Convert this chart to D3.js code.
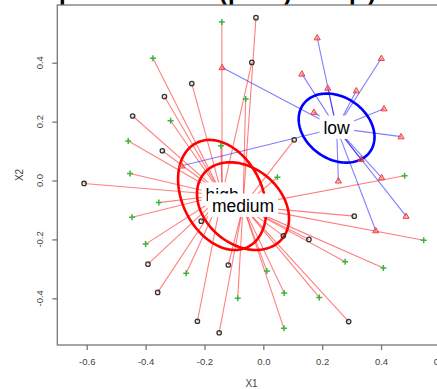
<!DOCTYPE html>
<html>
<head>
<meta charset="utf-8">
<script src="https://cdn.jsdelivr.net/npm/d3@7"></script>
<style>
  body { margin: 0; background: #fff; }
  svg { display: block; font-family: "Liberation Sans", Arial, sans-serif; }
</style>
</head>
<body>
<div id="chart"></div>
<script>
// points (X1, X2), marker shape and the group they are joined to
const pointX = [0.183, 0.401, 0.131, 0.219, 0.316, 0.410, 0.172, -0.140, 0.468, 0.255, 0.402, 0.485, 0.382, -0.277, 0.332,
  -0.141, -0.025, -0.375, -0.039, -0.243, -0.336, -0.060, -0.444, -0.315, -0.459, -0.343, -0.453, -0.609, -0.355, -0.446,
  -0.211, -0.400, -0.144, 0.105, 0.048, 0.480, 0.309, 0.068, 0.155, 0.545, -0.392, -0.262, -0.119, 0.012, 0.278,
  0.408, -0.359, 0.071, -0.087, 0.190, -0.224, 0.290, -0.150, 0.070];
const pointY = [0.485, 0.415, 0.362, 0.314, 0.305, 0.244, 0.232, 0.384, 0.149, -0.001, 0.010, -0.121, -0.170, 0.050, 0.072,
  0.538, 0.553, 0.415, 0.401, 0.329, 0.285, 0.277, 0.219, 0.203, 0.134, 0.101, 0.024, -0.010, -0.075, -0.125,
  -0.138, -0.216, 0.118, 0.138, 0.011, 0.016, -0.121, -0.188, -0.200, -0.203, -0.284, -0.315, -0.287, -0.307, -0.276,
  -0.297, -0.380, -0.382, -0.400, -0.397, -0.478, -0.479, -0.517, -0.502];
const pointShape = ['tri', 'tri', 'tri', 'tri', 'tri', 'tri', 'tri', 'tri', 'tri', 'tri', 'tri', 'tri', 'tri', 'tri', 'tri',
  'plus', 'circle', 'plus', 'circle', 'circle', 'circle', 'plus', 'circle', 'plus', 'plus', 'circle', 'plus', 'circle', 'plus', 'plus',
  'circle', 'plus', 'plus', 'circle', 'plus', 'plus', 'circle', 'circle', 'circle', 'plus', 'circle', 'plus', 'circle', 'plus', 'plus',
  'plus', 'circle', 'plus', 'plus', 'plus', 'circle', 'circle', 'circle', 'plus'];
const pointGroup = ['low', 'low', 'low', 'low', 'low', 'low', 'low', 'low', 'low', 'low', 'low', 'low', 'low', 'low', 'low',
  'high', 'medium', 'high', 'high', 'high', 'high', 'medium', 'high', 'high', 'high', 'high', 'high', 'high', 'high', 'high',
  'high', 'high', 'high', 'medium', 'medium', 'medium', 'medium', 'medium', 'medium', 'medium', 'high', 'high', 'medium', 'medium', 'medium',
  'medium', 'high', 'medium', 'medium', 'medium', 'high', 'medium', 'medium', 'medium'];

// group centres and ellipses (semi axes in X1/X2 units, angle in degrees)
const groupNames = ['low', 'high', 'medium'];
const groupCX = [0.249, -0.140, -0.069];
const groupCY = [0.178, -0.049, -0.087];
const ellA = [0.139, 0.197, 0.173];
const ellB = [0.105, 0.136, 0.129];
const ellAngle = [-35, -64, -40];

const xTicks = [-0.6, -0.4, -0.2, 0, 0.2, 0.4, 0.6];
const yTicks = [-0.4, -0.2, 0, 0.2, 0.4];

const width = 437, height = 389;
const x = d3.scaleLinear().domain([-0.7, 0.62]).range([57.3, 445.8]);
const y = d3.scaleLinear().domain([-0.5586, 0.596]).range([345, 5]);

const lineCol = { low: 'rgba(0,0,255,0.5)', high: 'rgba(255,0,0,0.5)', medium: 'rgba(255,0,0,0.5)' };
const ellCol = { low: '#0000ff', high: '#ff0000', medium: '#ff0000' };

const svg = d3.select('#chart').append('svg')
  .attr('width', width)
  .attr('height', height);

// cut-off title at the very top
const title = svg.append('text')
  .attr('y', 0)
  .attr('font-size', 24)
  .attr('font-weight', 'bold')
  .attr('fill', '#000');
[['p', 59], ['(', 219], ['p', 228], [')', 284], ['p', 349], [')', 368]].forEach(([t, px]) => {
  title.append('tspan').attr('x', px).text(t);
});

// box
svg.append('rect')
  .attr('x', x(-0.7)).attr('y', y(0.596))
  .attr('width', x(0.62) - x(-0.7)).attr('height', y(-0.5586) - y(0.596))
  .attr('fill', 'none').attr('stroke', '#777').attr('stroke-width', 1.3);

const xAxis = svg.append('g')
  .attr('transform', `translate(0,${y(-0.5586)})`)
  .call(d3.axisBottom(x).tickValues(xTicks).tickSize(5).tickPadding(8).tickFormat(d => d.toFixed(1)));
xAxis.select('.domain').remove();
xAxis.selectAll('line').attr('stroke', '#777').attr('stroke-width', 1.3);
xAxis.selectAll('text').attr('font-size', 9.5).attr('fill', '#444').attr('font-family', '"Liberation Sans", Arial, sans-serif');

const yAxis = svg.append('g')
  .attr('transform', `translate(${x(-0.7)},0)`)
  .call(d3.axisLeft(y).tickValues(yTicks).tickSize(5).tickFormat(''));
yAxis.select('.domain').remove();
yAxis.selectAll('line').attr('stroke', '#777').attr('stroke-width', 1.3);

svg.append('g').selectAll('text')
  .data(yTicks)
  .enter().append('text')
  .attr('transform', d => `translate(40,${y(d)}) rotate(-90)`)
  .attr('text-anchor', 'middle')
  .attr('dy', '0.35em')
  .attr('font-size', 9.5)
  .attr('fill', '#444')
  .text(d => d.toFixed(1));

svg.append('text')
  .attr('x', (x(-0.7) + x(0.62)) / 2).attr('y', 387)
  .attr('text-anchor', 'middle').attr('font-size', 10).attr('fill', '#444')
  .text('X1');
svg.append('text')
  .attr('transform', `translate(23,${(y(0.596) + y(-0.5586)) / 2}) rotate(-90)`)
  .attr('text-anchor', 'middle').attr('font-size', 10).attr('fill', '#444')
  .text('X2');

const points = pointX.map((v, i) => ({ x: v, y: pointY[i], shape: pointShape[i], group: pointGroup[i] }));
const centre = {};
groupNames.forEach((g, i) => { centre[g] = { x: groupCX[i], y: groupCY[i] }; });

// segments to the group centre
svg.append('g').selectAll('line')
  .data(points)
  .enter().append('line')
  .attr('x1', d => x(d.x)).attr('y1', d => y(d.y))
  .attr('x2', d => x(centre[d.group].x)).attr('y2', d => y(centre[d.group].y))
  .attr('stroke', d => lineCol[d.group])
  .attr('stroke-width', 1.1);

// ellipses
const ellLine = d3.line().curve(d3.curveLinearClosed);
groupNames.forEach((g, i) => {
  const phi = ellAngle[i] * Math.PI / 180;
  const pts = d3.range(0, 120).map(k => {
    const t = k / 120 * 2 * Math.PI;
    const ex = groupCX[i] + ellA[i] * Math.cos(t) * Math.cos(phi) - ellB[i] * Math.sin(t) * Math.sin(phi);
    const ey = groupCY[i] + ellA[i] * Math.cos(t) * Math.sin(phi) + ellB[i] * Math.sin(t) * Math.cos(phi);
    return [x(ex), y(ey)];
  });
  svg.append('path')
    .attr('d', ellLine(pts))
    .attr('fill', 'none')
    .attr('stroke', ellCol[g])
    .attr('stroke-width', 2.6);
});

// markers
const mk = svg.append('g').selectAll('g')
  .data(points)
  .enter().append('g')
  .attr('transform', d => `translate(${x(d.x)},${y(d.y)})`);

mk.filter(d => d.shape === 'circle').append('circle')
  .attr('r', 2.2)
  .attr('fill', 'none')
  .attr('stroke', '#333')
  .attr('stroke-width', 1.3);

mk.filter(d => d.shape === 'plus').append('path')
  .attr('d', 'M-3,0H3M0,-3V3')
  .attr('stroke', '#3cb43c')
  .attr('stroke-width', 1.5);

mk.filter(d => d.shape === 'tri').append('path')
  .attr('d', 'M0,-3.2L3.1,2.2L-3.1,2.2Z')
  .attr('fill', 'rgba(255,90,90,0.45)')
  .attr('stroke', '#f04040')
  .attr('stroke-width', 1);

// group labels with white boxes, medium drawn last so it covers high
const labelOrder = ['low', 'high', 'medium'];
labelOrder.forEach(g => {
  const c = centre[g];
  const lg = svg.append('g').attr('transform', `translate(${x(c.x)},${y(c.y)})`);
  const bg = lg.append('rect').attr('fill', '#fff');
  const t = lg.append('text')
    .attr('text-anchor', 'middle')
    .attr('dy', '0.35em')
    .attr('font-size', 17.5)
    .attr('fill', '#000')
    .text(g);
  const bb = t.node().getBBox();
  bg.attr('x', bb.x - 4).attr('y', bb.y - 2.7).attr('width', bb.width + 8).attr('height', bb.height + 3.4);
});
</script>
</body>
</html>
